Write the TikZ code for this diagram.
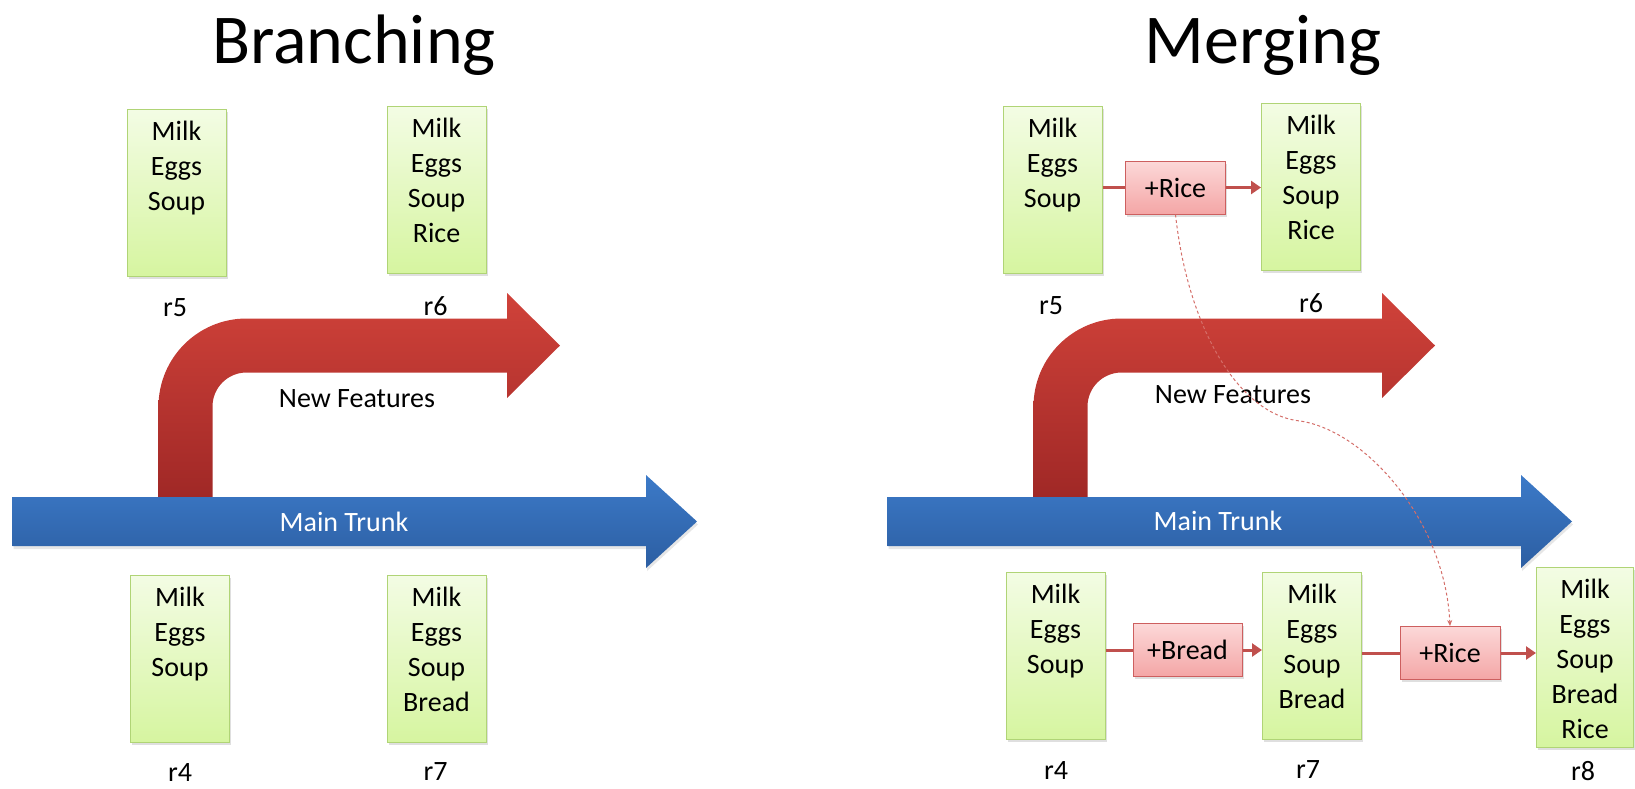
\documentclass[tikz,border=0pt]{standalone}
\usepackage{fontspec}
\setmainfont{Carlito}
\usetikzlibrary{shadows,arrows.meta,calc}
\definecolor{boxTop}{RGB}{243,252,228}
\definecolor{boxBot}{RGB}{214,245,160}
\definecolor{boxLine}{RGB}{176,212,118}
\definecolor{pinkTop}{RGB}{252,216,216}
\definecolor{pinkBot}{RGB}{244,166,166}
\definecolor{pinkLine}{RGB}{205,95,95}
\definecolor{conn}{RGB}{192,80,77}
\definecolor{dashc}{RGB}{212,110,105}
\definecolor{redTop}{RGB}{208,66,58}
\definecolor{redBot}{RGB}{160,40,38}
\definecolor{blueTop}{RGB}{60,122,200}
\definecolor{blueBot}{RGB}{44,94,162}
\begin{document}
\begin{tikzpicture}[x=1pt,y=-1pt,
  itembox/.style={draw=boxLine, line width=1pt, top color=boxTop, bottom color=boxBot,
    minimum width=99pt, minimum height=167pt, inner sep=0pt,
    drop shadow={opacity=0.25, shadow xshift=1.5pt, shadow yshift=-2.5pt}},
  itemtext/.style={font={\fontsize{28}{35}\selectfont}, align=center, anchor=north, inner sep=0pt},
  pinkbox/.style={draw=pinkLine, line width=1pt, top color=pinkTop, bottom color=pinkBot,
    minimum width=100pt, minimum height=53pt, inner sep=0pt, font={\fontsize{28}{34}\selectfont},
    drop shadow={opacity=0.25, shadow xshift=1.5pt, shadow yshift=-2.5pt}},
  lbl/.style={font={\fontsize{28}{34}\selectfont}, inner sep=0pt},
  ttl/.style={font={\fontsize{70}{84}\selectfont}, inner sep=0pt, anchor=base},
  conn/.style={draw=conn, line width=3pt},
  connarrow/.style={draw=conn, line width=3pt, -{Triangle[length=10pt,width=13pt]}},
  dashconn/.style={draw=dashc, line width=1pt, dash pattern=on 3pt off 2.5pt, -{Stealth[length=6pt,width=5pt]}}
]
\useasboundingbox (0,0) rectangle (1635,788);

% titles
\node[ttl] (tB) at (354,63) {Branching};
\node[ttl] (tM) at (1263,63) {Merging};

% big arrows for both panels
\foreach \dx in {0,875} {
  \begin{scope}[shift={(\dx,0)}]
  \shade[top color=redTop, bottom color=redBot]
    (158.5,497) -- (158.5,406.5) .. controls (158.5,357.9) and (197.9,318.5) .. (246.5,318.5)
    -- (507,318.5) -- (507,293) -- (560,345.5) -- (507,398) -- (507,372.5) -- (246.5,372.5)
    .. controls (227.7,372.5) and (212.5,387.7) .. (212.5,406.5) -- (212.5,497) -- cycle;
  \shade[top color=blueTop, bottom color=blueBot,
    drop shadow={opacity=0.2, shadow xshift=1pt, shadow yshift=-3pt}]
    (12.5,497) -- (646,497) -- (646,475) -- (697,521.5) -- (646,568) -- (646,546) -- (12.5,546) -- cycle;
  \end{scope}
}

\node[lbl] (nfL) at (357,399) {New Features};
\node[lbl] (nfR) at (1233,395) {New Features};
\node[lbl, text=white] (mtL) at (344,522) {Main Trunk};
\node[lbl, text=white] (mtR) at (1218,521) {Main Trunk};

% left panel boxes
\node[itembox] (r5L) at (176.5,193) {};
\node[itemtext] (r5Lt) at ($(r5L.north)+(0,12)$) {Milk\\Eggs\\Soup};
\node[itembox] (r6L) at (436.5,189.5) {};
\node[itemtext] (r6Lt) at ($(r6L.north)+(0,12)$) {Milk\\Eggs\\Soup\\Rice};
\node[itembox] (r4L) at (180,658.5) {};
\node[itemtext] (r4Lt) at ($(r4L.north)+(0,12)$) {Milk\\Eggs\\Soup};
\node[itembox] (r7L) at (436.5,658.5) {};
\node[itemtext] (r7Lt) at ($(r7L.north)+(0,12)$) {Milk\\Eggs\\Soup\\Bread};

\node[lbl] (l5L) at (175,308) {r5};
\node[lbl] (l6L) at (435.5,306) {r6};
\node[lbl] (l4L) at (180,772) {r4};
\node[lbl] (l7L) at (435.5,772) {r7};

% right panel boxes
\node[itembox] (r5R) at (1052.5,189.5) {};
\node[itemtext] (r5Rt) at ($(r5R.north)+(0,12)$) {Milk\\Eggs\\Soup};
\node[itembox] (r6R) at (1311,187) {};
\node[itemtext] (r6Rt) at ($(r6R.north)+(0,12)$) {Milk\\Eggs\\Soup\\Rice};
\node[itembox] (r4R) at (1055.5,655.5) {};
\node[itemtext] (r4Rt) at ($(r4R.north)+(0,12)$) {Milk\\Eggs\\Soup};
\node[itembox] (r7R) at (1312,655.5) {};
\node[itemtext] (r7Rt) at ($(r7R.north)+(0,12)$) {Milk\\Eggs\\Soup\\Bread};
\node[itembox, minimum width=97pt, minimum height=180pt] (r8R) at (1585,657) {};
\node[itemtext] (r8Rt) at ($(r8R.north)+(0,12)$) {Milk\\Eggs\\Soup\\Bread\\Rice};

\node[lbl] (l5R) at (1051,306) {r5};
\node[lbl] (l6R) at (1311,303) {r6};
\node[lbl] (l4R) at (1056,770) {r4};
\node[lbl] (l7R) at (1308,770) {r7};
\node[lbl] (l8R) at (1583,771) {r8};

% change boxes
\node[pinkbox] (pA) at (1175.5,187.5) {+Rice};
\node[pinkbox, minimum width=109pt] (pB) at (1187.5,650) {+Bread};
\node[pinkbox] (pC) at (1450,653) {+Rice};

\draw[conn] (r5R.east |- pA.west) -- (pA.west);
\draw[connarrow] (pA.east) -- (pA.east -| r6R.west);
\draw[conn] (r4R.east |- pB.west) -- (pB.west);
\draw[connarrow] (pB.east) -- (pB.east -| r7R.west);
\draw[conn] (r7R.east |- pC.west) -- (pC.west);
\draw[connarrow] (pC.east) -- (pC.east -| r8R.west);

\coordinate (mid) at (1300,421);
\draw[dashconn] (pA.south) .. controls (1188,330) and (1240,415) .. (mid)
  .. controls (1365,430.5) and (1445,520) .. (pC.north);
\end{tikzpicture}
\end{document}
